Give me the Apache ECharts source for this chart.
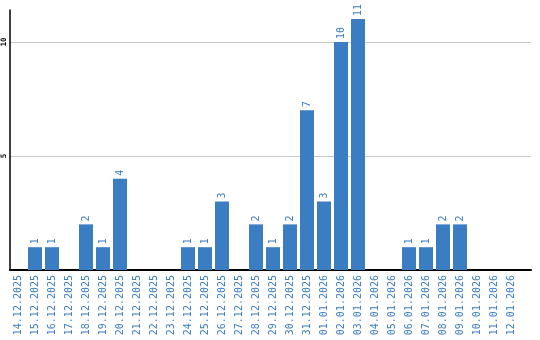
<!DOCTYPE html>
<html><head><meta charset="utf-8">
<script src="https://cdn.jsdelivr.net/npm/echarts@6/dist/echarts.min.js"></script>
<style>html,body{margin:0;padding:0;background:#fff}#c{width:540px;height:340px}</style>
</head><body><div id="c"></div>
<script>
const categories = ['14.12.2025','15.12.2025','16.12.2025','17.12.2025','18.12.2025','19.12.2025','20.12.2025','21.12.2025','22.12.2025','23.12.2025','24.12.2025','25.12.2025','26.12.2025','27.12.2025','28.12.2025','29.12.2025','30.12.2025','31.12.2025','01.01.2026','02.01.2026','03.01.2026','04.01.2026','05.01.2026','06.01.2026','07.01.2026','08.01.2026','09.01.2026','10.01.2026','11.01.2026','12.01.2026'];
const values = [0,1,1,0,2,1,4,0,0,0,1,1,3,0,2,1,2,7,3,10,11,0,0,1,1,2,2,0,0,0];
const yTicks = [5, 10];

const blue = '#3a7dc2';
const chart = echarts.init(document.getElementById('c'), null, {renderer:'canvas'});
chart.setOption({
  animation:false,
  grid:[
    {left:10, right:9, top:10, bottom:70},
    {left:9.5, width:510, top:10, bottom:70}
  ],
  xAxis:[
    {type:'category', gridIndex:0, data:categories, axisLine:{lineStyle:{color:'#000', width:2}}, axisTick:{show:false}, axisLabel:{show:false}},
    {type:'category', gridIndex:1, data:categories, axisLine:{show:false}, axisTick:{show:false},
     axisLabel:{rotate:90, interval:0, margin:5, color:blue, fontFamily:'DejaVu Sans Mono', fontSize:10}}
  ],
  yAxis:[
    {type:'value', gridIndex:0, min:0, max:11.4, interval:5,
     axisLine:{show:true, lineStyle:{color:'#000', width:1.5}}, axisTick:{show:false},
     splitLine:{showMaxLine:false, showMinLine:false, lineStyle:{color:'#c8c8c8', width:1}},
     axisLabel:{rotate:90, margin:2, color:'#000', fontFamily:'DejaVu Sans Mono', fontSize:7.5, fontWeight:'bold',
       showMaxLabel:false,
       formatter:v => yTicks.includes(v) ? String(v) : ''}},
    {type:'value', gridIndex:1, min:0, max:11.4, interval:5, show:false}
  ],
  series:[{
    type:'bar', xAxisIndex:1, yAxisIndex:1, data:values, barWidth:14,
    itemStyle:{color:blue},
    label:{show:true, position:'top', rotate:90, align:'left', verticalAlign:'middle', distance:3,
      color:blue, fontFamily:'DejaVu Sans Mono', fontSize:10,
      formatter:p => p.value ? String(p.value) : ''}
  }]
});
</script></body></html>
